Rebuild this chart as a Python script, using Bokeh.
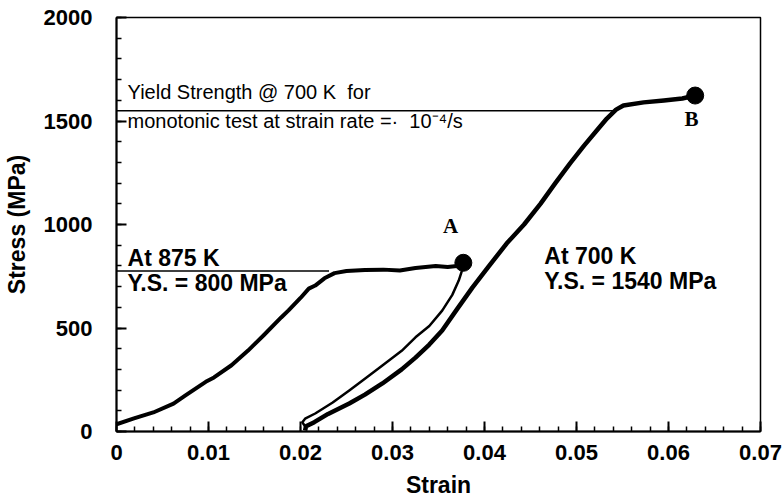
from bokeh.plotting import figure
from bokeh.models import Range1d, FixedTicker, Label, ColumnDataSource
from bokeh.embed import file_html
from bokeh.resources import INLINE
import numpy as np

# ---- data ----
x_ticks = [0.0, 0.01, 0.02, 0.03, 0.04, 0.05, 0.06, 0.07]
x_tick_labels = ["0", "0.01", "0.02", "0.03", "0.04", "0.05", "0.06", "0.07"]
y_ticks = [0, 500, 1000, 1500, 2000]
y_tick_labels = ["0", "500", "1000", "1500", "2000"]

# 875 K monotonic curve (loading to point A)
c875_strain = [0.0, 0.0019, 0.0040, 0.0062, 0.0075, 0.0097, 0.0106, 0.0125, 0.0143,
               0.0160, 0.0179, 0.0187, 0.0200, 0.0209, 0.0216, 0.0226, 0.0237, 0.0250,
               0.0270, 0.0290, 0.0308, 0.0325, 0.0347, 0.0360, 0.0370, 0.0377]
c875_stress = [35, 63, 92, 135, 175, 240, 261, 320, 391,
               465, 551, 585, 645, 690, 705, 740, 765, 775,
               780, 782, 778, 790, 800, 795, 800, 815]

# unloading branch from A (thin line)
unload_strain = [0.0377, 0.0375, 0.0372, 0.0365, 0.0354, 0.0340, 0.0325, 0.0310,
                 0.0289, 0.0270, 0.0253, 0.0235, 0.0216, 0.0205, 0.0202, 0.0205]
unload_stress = [815, 770, 729, 660, 584, 510, 455, 390,
                 319, 255, 198, 140, 87, 62, 45, 25]

# 700 K reloading curve (to point B)
c700_strain = [0.0205, 0.0206, 0.0215, 0.0230, 0.0253, 0.0270, 0.0289, 0.0310, 0.0325,
               0.0340, 0.0354, 0.0370, 0.0387, 0.0405, 0.0424, 0.0443, 0.0461, 0.0477,
               0.0493, 0.0508, 0.0522, 0.0533, 0.0543, 0.0551, 0.0573, 0.0595, 0.0615, 0.0629]
c700_stress = [5, 25, 45, 85, 135, 178, 232, 300, 357,
               420, 488, 590, 696, 800, 908, 1000, 1101, 1200,
               1295, 1380, 1454, 1512, 1555, 1575, 1590, 1599, 1609, 1623]

# yield strength reference lines
ys700_line_x = [0.0, 0.0543]
ys700_line_y = [1550, 1550]
ys875_line_x = [0.0, 0.0231]
ys875_line_y = [775, 775]

# end points A and B
pt_strain = [0.0377, 0.0629]
pt_stress = [815, 1623]

FONT = "Liberation Sans"
SERIF = "Liberation Serif"

p = figure(width=784, height=500, output_backend="svg", toolbar_location=None,
           x_range=Range1d(0, 0.07), y_range=Range1d(0, 2000),
           min_border_left=116, min_border_right=24, min_border_top=17, min_border_bottom=69)
p.xgrid.visible = False
p.ygrid.visible = False
p.background_fill_color = "white"
p.border_fill_color = "white"
p.outline_line_color = "black"
p.outline_line_width = 1.5
p.outline_line_alpha = 1.0

p.xaxis.ticker = FixedTicker(ticks=x_ticks, minor_ticks=list(np.round(np.arange(0, 0.0701, 0.002), 4)))
p.yaxis.ticker = FixedTicker(ticks=y_ticks, minor_ticks=list(range(0, 2001, 100)))
p.xaxis.major_label_overrides = {t: l for t, l in zip(x_ticks, x_tick_labels)}
p.yaxis.major_label_overrides = {t: l for t, l in zip(y_ticks, y_tick_labels)}

for ax in (p.xaxis, p.yaxis):
    ax.axis_line_width = 2
    ax.axis_line_color = "black"
    ax.major_tick_in = 10
    ax.major_tick_out = 0
    ax.minor_tick_in = 5
    ax.minor_tick_out = 0
    ax.major_tick_line_width = 2
    ax.minor_tick_line_width = 1.5
    ax.major_tick_line_color = "black"
    ax.minor_tick_line_color = "black"
    ax.major_label_text_font = FONT
    ax.major_label_text_font_style = "bold"
    ax.major_label_text_font_size = "22px"
    ax.major_label_text_color = "black"
    ax.axis_label_text_font = FONT
    ax.axis_label_text_font_style = "bold"
    ax.axis_label_text_font_size = "23px"
    ax.axis_label_text_color = "black"

p.xaxis.axis_label = "Strain"
p.yaxis.axis_label = "Stress (MPa)"
p.xaxis.major_label_standoff = 13
p.yaxis.major_label_standoff = 24
p.xaxis.axis_label_standoff = 9
p.yaxis.axis_label_standoff = 11

# reference lines
p.line(ys700_line_x, ys700_line_y, line_color="black", line_width=1.5)
p.line(ys875_line_x, ys875_line_y, line_color="black", line_width=1.5)

# curves
p.line(c875_strain, c875_stress, line_color="black", line_width=4, line_join="round")
p.line(unload_strain, unload_stress, line_color="black", line_width=2.5, line_join="round")
p.line(c700_strain, c700_stress, line_color="black", line_width=4.5, line_join="round")

src_pts = ColumnDataSource(dict(x=pt_strain, y=pt_stress))
p.scatter("x", "y", source=src_pts, size=17, fill_color="black", line_color="black")

def add_label(x, y, text, size, font=FONT, style="bold", align="left", baseline="alphabetic"):
    p.add_layout(Label(x=x, y=y, text=text, text_font=font, text_font_style=style,
                       text_font_size=size, text_color="black", text_align=align,
                       text_baseline=baseline))

add_label(0.0012, 1638, "Yield Strength @ 700 K\u00a0 for", "20px", style="normal")
add_label(0.0012, 1498, "monotonic test at strain rate =\u00b7\u00a0 10\u207b\u2074/s", "20px", style="normal")
add_label(0.0012, 836, "At 875 K", "23px")
add_label(0.0012, 718, "Y.S. = 800 MPa", "23px")
add_label(0.0465, 846, "At 700 K", "23px")
add_label(0.0465, 726, "Y.S. = 1540 MPa", "23px")
add_label(0.0363, 995, "A", "21px", font=SERIF, align="center", baseline="middle")
add_label(0.0625, 1512, "B", "21px", font=SERIF, align="center", baseline="middle")

open("out.html", "w").write(file_html(p, INLINE))
